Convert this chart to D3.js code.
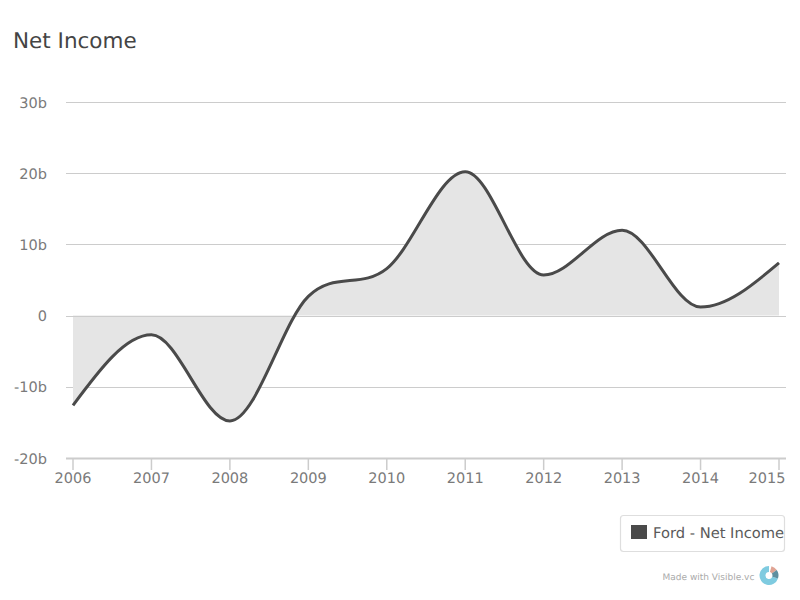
<!DOCTYPE html>
<html><head><meta charset="utf-8">
<script src="https://cdn.jsdelivr.net/npm/d3@7"></script>
<style>html,body{margin:0;padding:0;background:#fff}svg{display:block}text{font-family:"DejaVu Sans",sans-serif;text-rendering:geometricPrecision}</style>
</head><body><svg id="c" width="800" height="600"></svg>
<script>
const years=[2006,2007,2008,2009,2010,2011,2012,2013,2014,2015];
const netIncome=[-12.6,-2.7,-14.8,2.7,6.6,20.2,5.7,12,1.2,7.4];
const yTicks=[-20,-10,0,10,20,30];
const yTickLabels=["-20b","-10b","0","10b","20b","30b"];
const svg=d3.select("#c");
const x=d3.scaleLinear().domain([2006,2015]).range([73,779]);
const y=d3.scaleLinear().domain([-20,30]).range([458,102]);
const gridColor="#cccccc",tickColor="#7a7a7a";
// Catmull-Rom tangents, flattened at local extrema
function Spline(ctx){this._ctx=ctx;}
Spline.prototype={
 areaStart(){this._line=0;},areaEnd(){this._line=NaN;},
 lineStart(){this._p=[];},
 point(a,b){this._p.push([+a,+b]);},
 lineEnd(){
  const p=this._p,n=p.length,c=this._ctx,m=new Array(n);
  for(let i=1;i<n-1;i++){
   const s0=(p[i][1]-p[i-1][1])/(p[i][0]-p[i-1][0]),s1=(p[i+1][1]-p[i][1])/(p[i+1][0]-p[i][0]);
   m[i]=s0*s1<=0?0:(p[i+1][1]-p[i-1][1])/(p[i+1][0]-p[i-1][0]);
  }
  if(n>1){
   m[0]=(3*(p[1][1]-p[0][1])/(p[1][0]-p[0][0])-m[1])/2;
   m[n-1]=(3*(p[n-1][1]-p[n-2][1])/(p[n-1][0]-p[n-2][0])-m[n-2])/2;
  }
  for(let i=0;i<n;i++){
   if(i===0){this._line?c.lineTo(p[0][0],p[0][1]):c.moveTo(p[0][0],p[0][1]);}
   else{const h=(p[i][0]-p[i-1][0])/3;
    c.bezierCurveTo(p[i-1][0]+h,p[i-1][1]+h*m[i-1],p[i][0]-h,p[i][1]-h*m[i],p[i][0],p[i][1]);}
  }
  if(this._line===1)c.closePath();
  this._line=1-this._line;
 }
};
const spline=ctx=>new Spline(ctx);
svg.append("text").attr("x",13).attr("y",47.5).attr("font-size",21.5).attr("fill","#444").text("Net Income");
const g=svg.append("g");
g.selectAll("line.grid").data(yTicks).join("line").attr("class","grid")
 .attr("x1",66).attr("x2",786).attr("y1",d=>Math.round(y(d))+.5).attr("y2",d=>Math.round(y(d))+.5)
 .attr("stroke",gridColor).attr("stroke-width",d=>d===-20?2:1);
g.selectAll("text.yl").data(yTicks).join("text").attr("class","yl")
 .attr("x",47).attr("y",d=>y(d)+5.5).attr("text-anchor","end").attr("font-size",14.5).attr("fill",tickColor)
 .text((d,i)=>yTickLabels[i]);
g.selectAll("line.xt").data(years).join("line").attr("class","xt")
 .attr("x1",d=>x(d)).attr("x2",d=>x(d)).attr("y1",458).attr("y2",470)
 .attr("stroke",gridColor).attr("stroke-width",1.5);
g.selectAll("text.xl").data(years).join("text").attr("class","xl")
 .attr("x",d=>d===2015?x(d)-12:x(d)).attr("y",483).attr("text-anchor","middle").attr("font-size",14.5).attr("fill",tickColor)
 .text(d=>d);
const pts=years.map((d,i)=>[d,netIncome[i]]);
const area=d3.area().x(d=>x(d[0])).y0(y(0)).y1(d=>y(d[1])).curve(spline);
const line=d3.line().x(d=>x(d[0])).y(d=>y(d[1])).curve(spline);
svg.append("path").attr("d",area(pts)).attr("fill","#e5e5e5");
svg.append("line").attr("x1",66).attr("x2",786).attr("y1",Math.round(y(0))+.5).attr("y2",Math.round(y(0))+.5).attr("stroke",gridColor);
svg.append("path").attr("d",line(pts)).attr("fill","none").attr("stroke","#4a4a4a").attr("stroke-width",3);
const lg=svg.append("g");
lg.append("rect").attr("x",620.5).attr("y",515.5).attr("width",164).attr("height",36).attr("rx",3).attr("fill","#fff").attr("stroke","#dedede").attr("stroke-width",1.2);
lg.append("rect").attr("x",631).attr("y",525).attr("width",16).attr("height",14).attr("fill","#4a4a4a");
lg.append("text").attr("x",653).attr("y",538).attr("font-size",14.7).attr("fill","#5a5a5a").text("Ford - Net Income");
svg.append("text").attr("x",662.5).attr("y",580).attr("font-size",9).attr("fill","#aaaaaa").text("Made with Visible.vc");
const logo=[{v:70,c:"#7fcbe0"},{v:4,c:"#ffffff"},{v:11,c:"#e0a494"},{v:15,c:"#5f8f9f"}];
const arc=d3.arc().innerRadius(3.5).outerRadius(9.5);
const pie=d3.pie().value(d=>d.v).sort(null).startAngle(1.9).endAngle(1.9+Math.PI*2);
svg.append("g").attr("transform","translate(769,575.5)").selectAll("path").data(pie(logo)).join("path").attr("d",arc).attr("fill",d=>d.data.c);
</script></body></html>
